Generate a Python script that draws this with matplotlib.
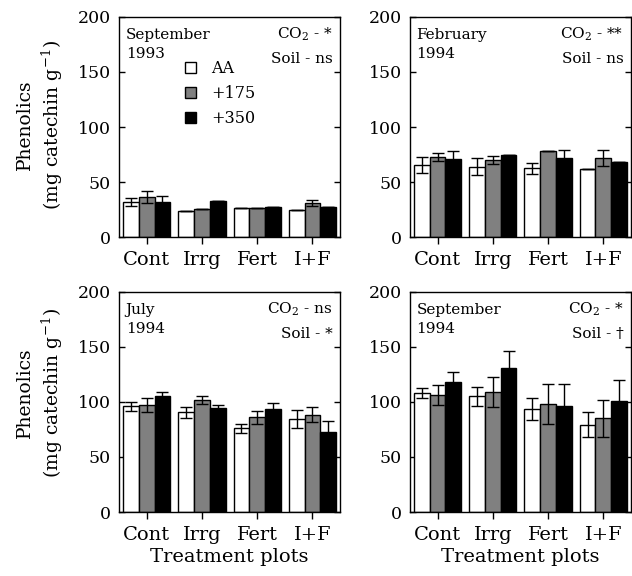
import numpy as np
import matplotlib
matplotlib.use('Agg')
import matplotlib.pyplot as plt

plt.rcParams['font.family'] = ['DejaVu Serif']
plt.rcParams['mathtext.fontset'] = 'dejavuserif'

# donnees
treatments = ['Cont', 'Irrg', 'Fert', 'I+F']
co2_levels = ['AA', '+175', '+350']
bar_colors = ['white', '#808080', 'black']

panel_titles = ['September\n1993', 'February\n1994', 'July\n1994', 'September\n1994']
co2_signif = ['*', '**', 'ns', '*']
soil_signif = ['ns', 'ns', '*', '\u2020']

# moyennes [AA, +175, +350] x [Cont, Irrg, Fert, I+F]
sep93_means = [[32, 23.5, 26, 25], [36.5, 25.5, 26.5, 31], [32, 32.5, 27.5, 27.5]]
sep93_errs = [[3.7, 0, 0, 0], [5.7, 0, 0, 3], [5.5, 0, 0, 0]]

feb94_means = [[65.5, 64, 62.5, 62], [73, 70, 78.5, 72], [71, 74.5, 72, 68]]
feb94_errs = [[7.5, 7.5, 5, 0], [3.5, 3.5, 0, 7.3], [7, 0, 6.7, 0]]

jul94_means = [[96, 90.5, 76, 84.5], [97, 101.5, 86, 88.5], [105.5, 94.5, 93.5, 72.5]]
jul94_errs = [[4, 5, 4.3, 8.5], [6.5, 3.5, 5.8, 7], [3.6, 3, 5.5, 10]]

sep94_means = [[108, 105, 94, 79.5], [106, 109, 98, 85], [118, 131, 96.5, 101]]
sep94_errs = [[4.3, 9, 10, 11], [9, 14, 18, 17], [9, 15.5, 19.5, 19]]

all_means = [sep93_means, feb94_means, jul94_means, sep94_means]
all_errs = [sep93_errs, feb94_errs, jul94_errs, sep94_errs]

fig = plt.figure(figsize=(6.32, 5.76), dpi=100)

# positions des axes (fractions de la figure)
lefts = [0.1883, 0.6487]
bottoms = [0.5885, 0.1111]
w_ax, h_ax = 0.3497, 0.382

x = np.arange(len(treatments))
bw = 0.285

axes = []
for i in range(4):
    r, c = divmod(i, 2)
    ax = fig.add_axes([lefts[c], bottoms[r], w_ax, h_ax])
    axes.append(ax)
    for k in range(3):
        pos = x + (k - 1) * bw
        ax.bar(pos, all_means[i][k], width=bw, color=bar_colors[k],
               edgecolor='black', linewidth=1, label=co2_levels[k], zorder=2)
        ax.errorbar(pos, all_means[i][k], yerr=all_errs[i][k], fmt='none',
                    ecolor='black', elinewidth=1, capsize=4.5, capthick=1, zorder=3)
    ax.set_xlim(-0.5, 3.5)
    ax.set_ylim(0, 200)
    ax.set_yticks([0, 50, 100, 150, 200])
    ax.set_xticks(x)
    ax.set_xticklabels(treatments, fontsize=14)
    ax.tick_params(axis='y', direction='in', left=True, right=True, length=4.5,
                   width=1, labelsize=12.5, pad=6)
    ax.tick_params(axis='x', direction='out', length=5, width=1, pad=5)
    for s in ax.spines.values():
        s.set_linewidth(1)

    t1, t2 = panel_titles[i].split('\n')
    ax.text(0.03, 0.9, t1, transform=ax.transAxes, fontsize=11, va='baseline')
    ax.text(0.03, 0.815, t2, transform=ax.transAxes, fontsize=11, va='baseline')
    ax.text(0.965, 0.9, 'CO$_2$ - ' + co2_signif[i], transform=ax.transAxes,
            fontsize=11, ha='right', va='baseline')
    ax.text(0.965, 0.79, 'Soil - ' + soil_signif[i], transform=ax.transAxes,
            fontsize=11, ha='right', va='baseline')

    if r == 1:
        ax.set_xlabel('Treatment plots', fontsize=14, labelpad=3)

axes[0].legend(loc='upper left', bbox_to_anchor=(0.3, 0.805), frameon=False,
               borderpad=0, borderaxespad=0, handlelength=0.7, handleheight=0.7,
               handletextpad=0.9, labelspacing=0.5, fontsize=11.5)

# titres des axes y
for yc in [0.783, 0.318]:
    fig.text(25 / 632, yc, 'Phenolics', rotation=90, ha='center', va='center', fontsize=13.5)
    fig.text(52 / 632, yc, '(mg catechin g$^{-1}$)', rotation=90, ha='center',
             va='center', fontsize=13.5)

fig.savefig('out.png', dpi=100)
